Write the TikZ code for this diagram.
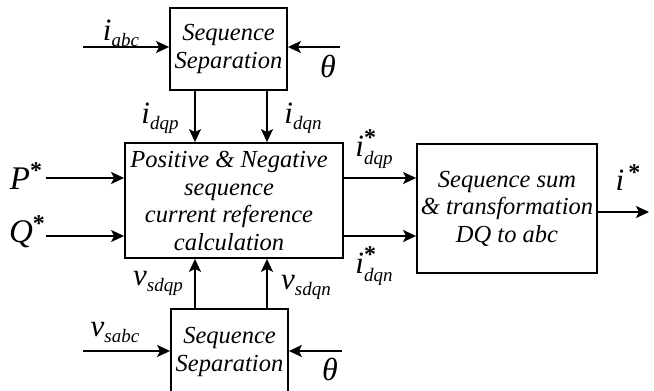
\documentclass[tikz,border=0pt]{standalone}
\usepackage{fontspec}
\setmainfont{Liberation Serif}
\usetikzlibrary{arrows.meta}
\newcommand{\bigsym}{\fontsize{31}{31}\selectfont\itshape}
\newcommand{\subsym}{\fontsize{19}{19}\selectfont\itshape}
\newcommand{\starsym}{\fontsize{24}{24}\selectfont\upshape\bfseries}
\newcommand{\symsub}[2]{{\bigsym #1}\raisebox{-6pt}{\subsym #2}}
\newcommand{\symstarsub}[2]{{\bigsym #1}\rlap{\raisebox{11pt}{\starsym *}}\raisebox{-8pt}{\subsym #2}}
\begin{document}
\begin{tikzpicture}[x=1pt,y=-1pt,
  blk/.style={draw,line width=1.8pt,align=center,inner sep=0pt,
    font=\fontsize{24.5}{27.5}\selectfont\itshape},
  txt/.style={inner sep=0pt,align=center,font=\fontsize{24.5}{27.5}\selectfont\itshape},
  arr/.style={line width=1.8pt,-{Stealth[length=13pt,width=12pt,inset=3pt]}},
  lbl/.style={inner sep=0pt}]
\useasboundingbox (0,0) rectangle (654,391);
% blocks
\node[blk,minimum width=117pt,minimum height=82pt] (top) at (228.5,49) {Sequence\\Separation};
\node[blk,minimum width=218pt,minimum height=115pt] (main) at (234,200.5) {};
\node[txt] (maintxt) at (229,201) {Positive \& Negative\\sequence\\current reference\\calculation};
\node[blk,minimum width=180pt,minimum height=129pt] (right) at (507,208.5) {Sequence sum\\\& transformation\\DQ to abc};
\node[blk,minimum width=117pt,minimum height=86pt] (bot) at (229.5,352) {};
\node[txt] (bottxt) at (229.5,352) {Sequence\\Separation};
% coordinates
\coordinate (iabcS) at (83,47);
\coordinate (thtS) at (340,47);
\coordinate (vabcS) at (83,351);
\coordinate (thbS) at (342,351);
\coordinate (pS) at (46,178);
\coordinate (qS) at (46,236);
\coordinate (xa) at (195,0);
\coordinate (xb) at (267,0);
\coordinate (ya) at (0,178);
\coordinate (yb) at (0,236);
\coordinate (outE) at (649,212);
% connectors
\draw[arr] (iabcS) -- (top.west |- iabcS);
\draw[arr] (thtS) -- (top.east |- thtS);
\draw[arr] (top.south -| xa) -- (main.north -| xa);
\draw[arr] (top.south -| xb) -- (main.north -| xb);
\draw[arr] (pS) -- (main.west |- pS);
\draw[arr] (qS) -- (main.west |- qS);
\draw[arr] (bot.north -| xa) -- (main.south -| xa);
\draw[arr] (bot.north -| xb) -- (main.south -| xb);
\draw[arr] (vabcS) -- (bot.west |- vabcS);
\draw[arr] (thbS) -- (bot.east |- thbS);
\draw[arr] (main.east |- ya) -- (right.west |- ya);
\draw[arr] (main.east |- yb) -- (right.west |- yb);
\draw[arr] (right.east |- outE) -- (outE);
% labels
\node[lbl] (liabc) at (121,33) {\symsub{i}{abc}};
\node[lbl] (lth1) at (328,66) {\fontsize{32}{32}\selectfont\itshape θ};
\node[lbl] (lidqp) at (160,118) {\symsub{i}{dqp}};
\node[lbl] (lidqn) at (303,118) {\symsub{i}{dqn}};
\node[lbl] (lP) at (26,176) {{\fontsize{33}{33}\selectfont\itshape P}\raisebox{11pt}{\starsym *}};
\node[lbl] (lQ) at (27,232) {{\fontsize{33}{33}\selectfont\itshape Q}\raisebox{11pt}{\starsym *}};
\node[lbl] (lvsdqp) at (158,283) {\symsub{v}{sdqp}};
\node[lbl] (lvsdqn) at (306,287) {\symsub{v}{sdqn}};
\node[lbl] (lvsabc) at (115,332) {\symsub{v}{sabc}};
\node[lbl] (lth2) at (330,369) {\fontsize{32}{32}\selectfont\itshape θ};
\node[lbl] (lsdqp) at (374,149) {\symstarsub{i}{dqp}};
\node[lbl] (lsdqn) at (374,266) {\symstarsub{i}{dqn}};
\node[lbl] (listar) at (628,178) {{\bigsym i}\raisebox{10pt}{\starsym\,*}};
\end{tikzpicture}
\end{document}
